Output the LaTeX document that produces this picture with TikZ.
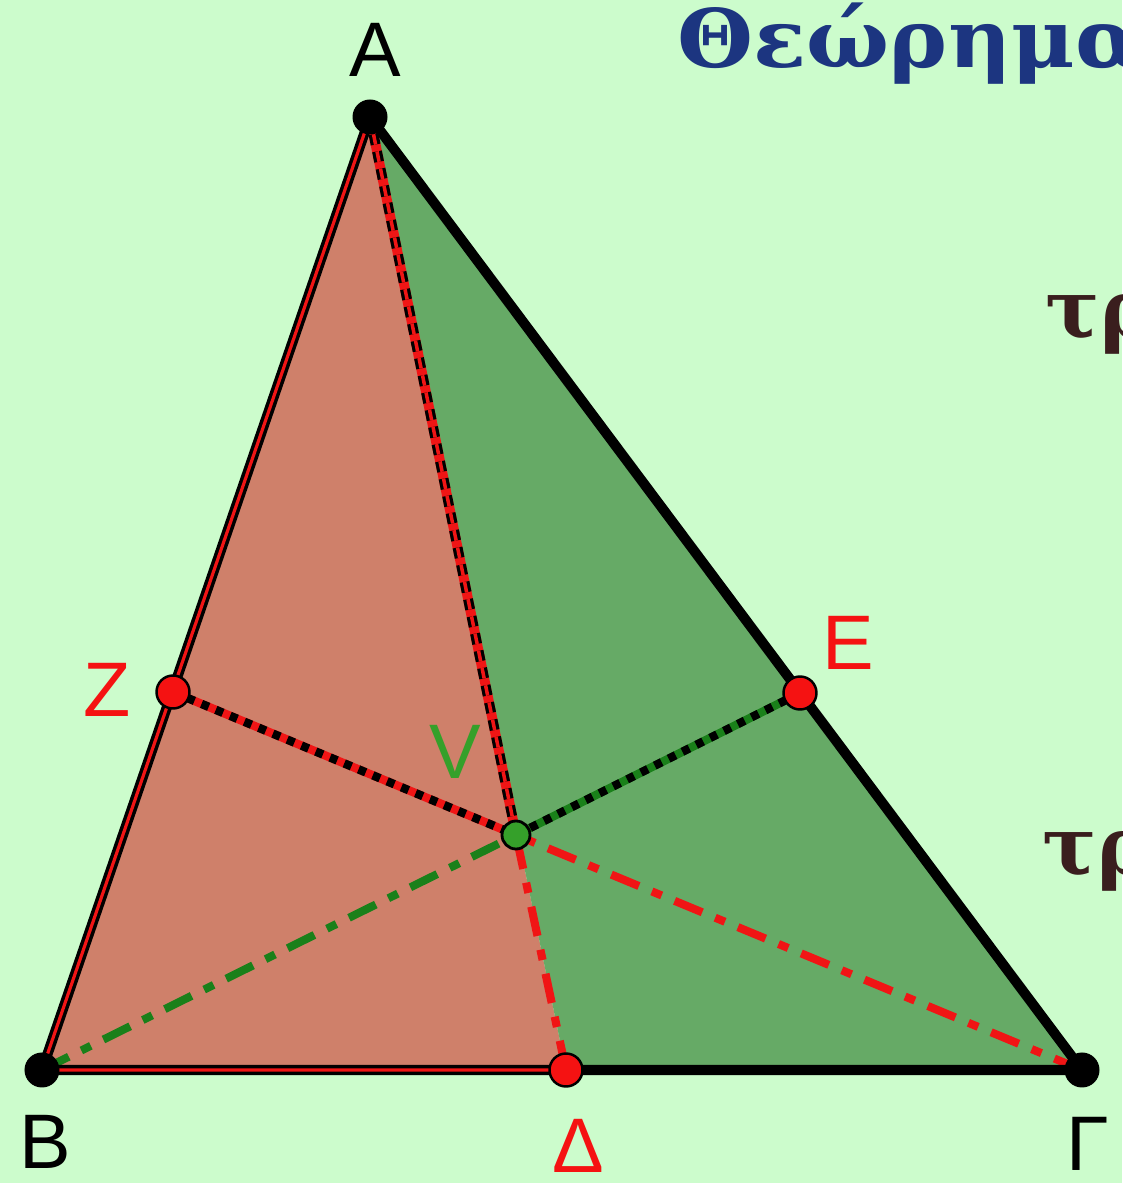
\documentclass[tikz,border=0pt]{standalone}
\usepackage{fontspec}
\setmainfont{Liberation Sans}
\newfontfamily\titlefont{DejaVu Serif}
\definecolor{bgmint}{HTML}{CCFCCC}
\definecolor{salmonfill}{HTML}{CF806A}
\definecolor{greenfill}{HTML}{66AA66}
\definecolor{ptred}{HTML}{F51212}
\definecolor{lnred}{HTML}{F01515}
\definecolor{lngreen}{HTML}{1A801A}
\definecolor{vgreen}{HTML}{35A02A}
\definecolor{titleblue}{HTML}{1C3580}
\definecolor{textbrown}{HTML}{3A1E1E}

\begin{document}
\begin{tikzpicture}[line join=round,
  vertex/.style={circle,fill=black,inner sep=0pt,minimum size=0.35cm},
  footpt/.style={circle,fill=ptred,draw=black,line width=0.7pt,inner sep=0pt,minimum size=0.33cm},
  centre/.style={circle,fill=vgreen,draw=black,line width=0.8pt,inner sep=0pt,minimum size=0.28cm},
  lbl/.style={inner sep=0pt,font=\fontsize{22}{22}\selectfont},
  side/.style={black,line width=2.85pt},
  redside/.style={black,line width=1pt,double=lnred,double distance=0.9pt},
  dashdot/.style={line width=2.3pt,dash pattern=on 8.5pt off 4pt on 3pt off 4pt},
  dotbase/.style={line width=2.4pt},
  blackdots/.style={black,line width=2.4pt,dash pattern=on 2.2pt off 2.2pt},
  greektext/.style={anchor=base west,inner sep=0pt,font=\titlefont\bfseries\fontsize{23}{23}\selectfont}]
 \useasboundingbox (0,0) rectangle (11.22,11.83);
 \fill[bgmint] (0,0) rectangle (11.22,11.83);
 \clip (0,0) rectangle (11.22,11.83);

 % points of the triangle
 \coordinate (A) at (3.70,10.66);
 \coordinate (B) at (0.42,1.13);
 \coordinate (G) at (10.82,1.13);
 \coordinate (Z) at (1.73,4.91);
 \coordinate (E) at (8.00,4.90);
 \coordinate (D) at (5.66,1.13);
 \coordinate (V) at (5.16,3.48);

 \fill[salmonfill] (A) -- (B) -- (D) -- cycle;
 \fill[greenfill] (A) -- (D) -- (G) -- cycle;

 % cevians through V
 \draw[lnred,line width=2.8pt] (A) -- (V);
 \draw[black,line width=0.9pt,double=lnred,double distance=1pt,dash pattern=on 3pt off 2pt] (A) -- (V);
 \draw[lnred,dotbase] (Z) -- (V);
 \draw[blackdots] (Z) -- (V);
 \draw[lngreen,dotbase] (E) -- (V);
 \draw[blackdots] (E) -- (V);
 \draw[lngreen,dashdot] (B) -- (V);
 \draw[lnred,dashdot] (G) -- (V);
 \draw[lnred,dashdot] (D) -- (V);

 % sides
 \draw[side] (A) -- (G) -- (D);
 \draw[redside] (A) -- (B) -- (D);

 \node[vertex] (nA) at (A) {};
 \node[vertex] (nB) at (B) {};
 \node[vertex] (nG) at (G) {};
 \node[footpt] (nZ) at (Z) {};
 \node[footpt] (nE) at (E) {};
 \node[footpt] (nD) at (D) {};
 \node[centre] (nV) at (V) {};

 \node[lbl] (lA) at (3.75,11.33) {A};
 \node[lbl] (lB) at (0.45,0.41) {B};
 \node[lbl] (lG) at (10.88,0.39) {Γ};
 \node[lbl,ptred] (lD) at (5.78,0.37) {Δ};
 \node[lbl,ptred] (lZ) at (1.07,4.93) {Z};
 \node[lbl,ptred] (lE) at (8.48,5.40) {E};
 \node[lbl,vgreen] (lV) at (4.55,4.31) {V};

 \node[greektext,titleblue,xscale=1.08] (title) at (6.77,11.15) {Θεώρημα};
 \node[greektext,textbrown] (tr1) at (10.45,8.45) {τρ};
 \node[greektext,textbrown] (tr2) at (10.42,3.08) {τρ};
\end{tikzpicture}
\end{document}
